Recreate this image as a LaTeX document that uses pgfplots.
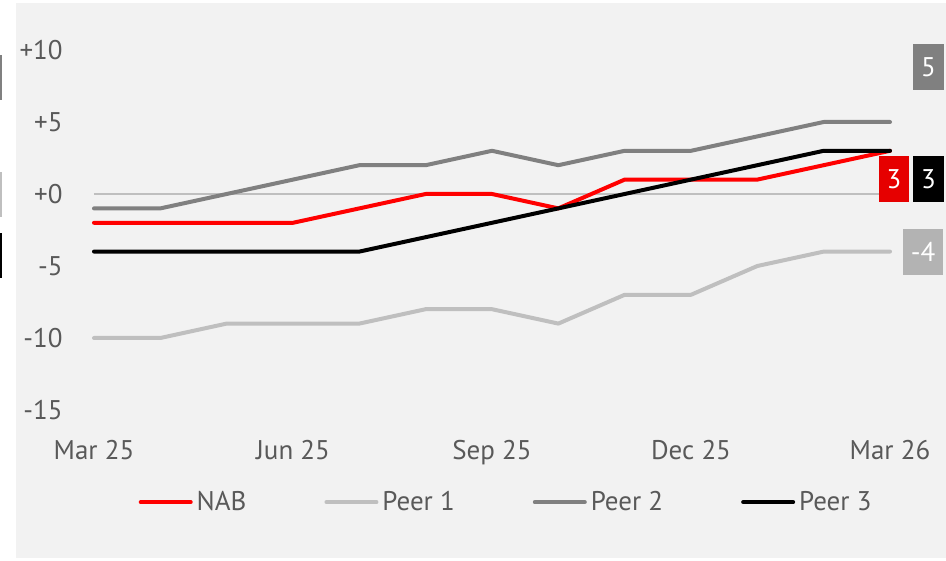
\documentclass[border=0pt]{standalone}
\usepackage{fontspec}
\setmainfont{PT Sans}
\usepackage{pgfplots}
\pgfplotsset{compat=1.18}

\definecolor{bgpanel}{HTML}{F2F2F2}
\definecolor{txt}{HTML}{595959}
\definecolor{nabred}{HTML}{FF0000}
\definecolor{boxred}{HTML}{E60000}
\definecolor{peerone}{HTML}{BFBFBF}
\definecolor{peeronebox}{HTML}{B3B3B3}
\definecolor{peertwo}{HTML}{808080}
\definecolor{zeroline}{HTML}{BFBFBF}

\begin{document}
\begin{tikzpicture}[x=0.5pt,y=0.5pt]
% canvas in pixel units, y measured from the bottom (561 - pixel row)
\useasboundingbox (0,0) rectangle (946,561);
\fill[white] (0,0) rectangle (946,561);
\fill[bgpanel] (16,3) rectangle (946,558);
% cut-off boxes at the left edge
\fill[peertwo] (0,561-55) rectangle (2,561-100);
\fill[peerone] (0,561-172) rectangle (2,561-217);
\fill[black] (0,561-233) rectangle (2,561-278);

\begin{axis}[
    at={(47pt,75.5pt)}, anchor=south west,
    scale only axis,
    width=398pt, height=180pt,
    xmin=0, xmax=12,
    ymin=-15, ymax=10,
    clip=false,
    axis line style={draw=none},
    major tick length=0pt,
    xtick={0,3,6,9,12},
    xticklabels={Mar 25,Jun 25,Sep 25,Dec 25,Mar 26},
    ytick={-15,-10,-5,0,5,10},
    yticklabels={-15,-10,-5,+0,+5,+10},
    /pgf/number format/assume math mode=true,
    tick label style={font=\fontsize{13.5}{16}\selectfont, text=txt},
    xticklabel style={anchor=north, inner sep=0pt, yshift=-15pt},
    yticklabel style={anchor=east, inner sep=0pt, xshift=-15.5pt},
    every axis plot/.append style={line width=2pt, line cap=round, line join=round, mark=none},
    legend columns=4,
    legend style={at={(0.519,-0.256)}, anchor=center, draw=none, fill=none,
        font=\fontsize{13.5}{16}\selectfont, text=txt,
        /tikz/every even column/.append style={column sep=37pt},
        nodes={inner xsep=2pt}},
    legend cell align=left,
    legend image code/.code={\draw[#1, line cap=round] (0pt,0pt) -- (25pt,0pt);},
]

\addplot[zeroline, line width=0.75pt, line cap=butt, forget plot] coordinates {(0,0) (12,0)};

\addplot[nabred] coordinates {
(0,-2) (1,-2) (2,-2) (3,-2) (4,-1) (5,0) (6,0) (7,-1) (8,1) (9,1) (10,1) (11,2) (12,3)};
\addplot[peerone] coordinates {
(0,-10) (1,-10) (2,-9) (3,-9) (4,-9) (5,-8) (6,-8) (7,-9) (8,-7) (9,-7) (10,-5) (11,-4) (12,-4)};
\addplot[peertwo] coordinates {
(0,-1) (1,-1) (2,0) (3,1) (4,2) (5,2) (6,3) (7,2) (8,3) (9,3) (10,4) (11,5) (12,5)};
\addplot[black] coordinates {
(0,-4) (1,-4) (2,-4) (3,-4) (4,-4) (5,-3) (6,-2) (7,-1) (8,0) (9,1) (10,2) (11,3) (12,3)};

\legend{NAB,Peer 1,Peer 2,Peer 3}
\end{axis}

% end-of-line value labels
\tikzset{vlab/.style={text=white, font=\fontsize{13.5}{16}\selectfont, inner sep=0pt}}
\fill[peertwo] (913,561-44) rectangle (944,561-90);
\node[vlab] at (928.5,561-67) {5};
\fill[boxred] (879,561-156) rectangle (909,561-202);
\node[vlab] at (894,561-179) {3};
\fill[black] (913,561-156) rectangle (944,561-202);
\node[vlab] at (928.5,561-179) {3};
\fill[peeronebox] (903,561-229) rectangle (943,561-275);
\node[vlab] at (923,561-252) {-4};
\end{tikzpicture}
\end{document}
